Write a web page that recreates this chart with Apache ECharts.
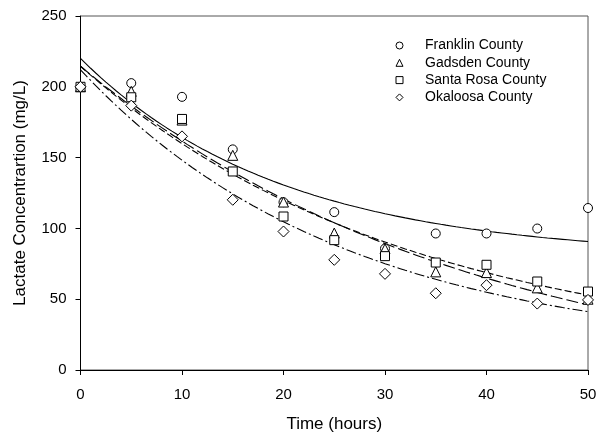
<!DOCTYPE html>
<html>
<head>
<meta charset="utf-8">
<script src="https://cdn.jsdelivr.net/npm/echarts@6/dist/echarts.min.js"></script>
<style>
html,body{margin:0;padding:0;background:#fff;}
#chart{width:596px;height:436px;}
</style>
</head>
<body>
<div id="chart"></div>
<script>
// ---- Data ----
var hours = [0, 5, 10, 15, 20, 25, 30, 35, 40, 45, 50];
var countyNames = ['Franklin County', 'Gadsden County', 'Santa Rosa County', 'Okaloosa County'];
var franklin  = [200, 202.6, 192.9, 155.8, 118.5, 111.5, 85.8, 96.4, 96.4, 99.9, 114.4];
var gadsden   = [200, 196.8, 176.5, 151.6, 118.6, 96.7, 85.5, 69.3, 68.8, 58.0, 50.0];
var santaRosa = [200, 192.6, 177.3, 140.2, 108.4, 91.7, 80.4, 75.9, 74.3, 62.5, 55.4];
var okaloosa  = [200, 186.7, 165.0, 120.2, 97.8, 77.8, 67.9, 54.2, 59.9, 46.9, 49.5];
// fitted decay curves y = c + a*exp(-k*t), parameters
var fitC = [79.5, -18.1, 9.2, 11.8];
var fitA = [140.5, 232.6, 205.3, 200.2];
var fitK = [0.0505, 0.02577, 0.03093, 0.03838];
var xTicks = [0, 10, 20, 30, 40, 50];
var yTicks = [0, 50, 100, 150, 200, 250];

var seriesValues = [franklin, gadsden, santaRosa, okaloosa];
var symbols = ['circle', 'triangle', 'rect', 'diamond'];
var symbolSizes = [9, 10, 9, 11];
var dashes = ['solid', [12, 4], [7, 3], [10, 3, 2, 3]];

function fitCurve(i) {
  var pts = [];
  for (var s = 0; s <= 100; s++) {
    var t = s * 0.5;
    pts.push([t, fitC[i] + fitA[i] * Math.exp(-fitK[i] * t)]);
  }
  return pts;
}

var FONT = 'Liberation Sans, Arial, Helvetica, sans-serif';
var series = [];
for (var i = 0; i < 4; i++) {
  series.push({
    type: 'line',
    data: fitCurve(i),
    showSymbol: false,
    silent: true,
    z: 2,
    lineStyle: { color: '#000', width: 1.1, type: dashes[i] }
  });
}
for (var j = 0; j < 4; j++) {
  series.push({
    name: countyNames[j],
    type: 'scatter',
    data: hours.map(function (h, k) { return [h, seriesValues[j][k]]; }),
    symbol: symbols[j],
    symbolSize: symbolSizes[j],
    z: 3,
    itemStyle: { color: '#fff', borderColor: '#000', borderWidth: 1, opacity: 1 }
  });
}

var chart = echarts.init(document.getElementById('chart'), null, { renderer: 'canvas' });
chart.setOption({
  animation: false,
  backgroundColor: '#fff',
  textStyle: { fontFamily: FONT, color: '#000' },
  grid: {
    left: 80.5, right: 8, top: 16, bottom: 66,
    show: true, borderColor: '#555', borderWidth: 1,
    outerBoundsMode: 'none'
  },
  legend: {
    orient: 'vertical',
    left: 395.5, top: 38.5,
    padding: 0,
    data: countyNames,
    itemWidth: 7, itemHeight: 7,
    itemGap: 3.3,
    textStyle: { fontFamily: FONT, fontSize: 14, color: '#000', lineHeight: 14, padding: [0, 0, 0, 17] },
    itemStyle: { color: '#fff', borderColor: '#000', borderWidth: 1 },
    selectedMode: false
  },
  xAxis: {
    type: 'value', min: xTicks[0], max: xTicks[xTicks.length - 1], interval: 10,
    name: 'Time (hours)', nameLocation: 'middle', nameGap: 46,
    nameTextStyle: { fontFamily: FONT, fontSize: 17, color: '#000' },
    axisLine: { show: true, onZero: false, lineStyle: { color: '#000', width: 1 } },
    axisTick: { show: true, inside: false, length: 5, lineStyle: { color: '#000' } },
    axisLabel: { fontFamily: FONT, fontSize: 15, color: '#000', margin: 17 },
    splitLine: { show: false }
  },
  yAxis: {
    type: 'value', min: yTicks[0], max: yTicks[yTicks.length - 1], interval: 50,
    name: 'Lactate Concentrartion (mg/L)', nameLocation: 'middle', nameGap: 52,
    nameTextStyle: { fontFamily: FONT, fontSize: 17, color: '#000' },
    axisLine: { show: true, onZero: false, lineStyle: { color: '#000', width: 1 } },
    axisTick: { show: true, inside: false, length: 5, lineStyle: { color: '#000' } },
    axisLabel: { fontFamily: FONT, fontSize: 15, color: '#000', margin: 14 },
    splitLine: { show: false }
  },
  series: series
});
</script>
</body>
</html>
